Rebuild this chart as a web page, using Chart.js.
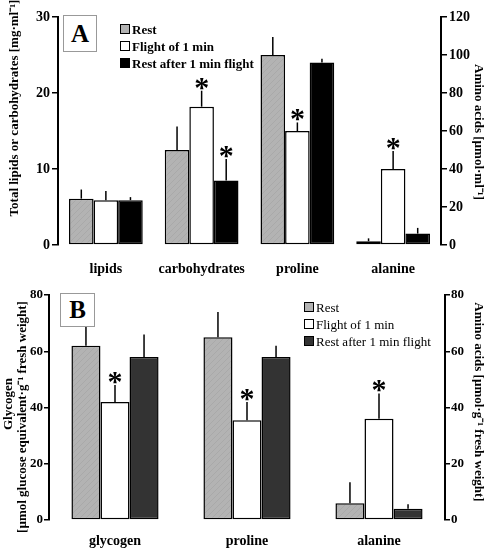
<!DOCTYPE html>
<html>
<head>
<meta charset="utf-8">
<script src="https://cdn.jsdelivr.net/npm/chart.js@4"></script>
<style>
  body { margin: 0; background: #fff; width: 488px; height: 548px; position: relative; overflow: hidden; font-family: "Liberation Serif", "Times New Roman", serif; }
  .panel { position: absolute; left: 0; width: 488px; }
  #wrapA { top: 0; height: 280px; }
  #wrapB { top: 280px; height: 268px; }
  .tag { position: absolute; border: 1px solid #999; background: #fff; font-weight: bold; font-size: 25px; text-align: center; box-sizing: border-box; }
  .legend { position: absolute; font-size: 13px; line-height: 17px; color: #000; }
  .legend div { white-space: nowrap; }
  .sw { display: inline-block; width: 8px; height: 8px; border: 1px solid #000; margin-right: 2px; }
</style>
</head>
<body>
<div class="panel" id="wrapA"><canvas id="chartA" width="488" height="280"></canvas></div>
<div class="panel" id="wrapB"><canvas id="chartB" width="488" height="268"></canvas></div>

<div class="tag" style="left:63px; top:15px; width:34px; height:37px; line-height:35px;">A</div>
<div class="tag" style="left:60px; top:293px; width:35px; height:34px; line-height:32px;">B</div>

<div class="legend" id="legendA" style="left:120px; top:21px; font-weight:bold;"></div>
<div class="legend" id="legendB" style="left:304px; top:299px;"></div>

<script>
// Panel A: hemolymph, lipids/carbohydrates in mg/ml (left axis), amino acids in umol/ml (right axis)
const categoriesA = ['lipids', 'carbohydrates', 'proline', 'alanine'];
const onRightA = [false, false, true, true];
const restA = [6.1, 12.5, 100, 2];
const flightA = [5.9, 18.2, 60, 40];
const afterA = [5.9, 8.5, 96, 6];
const restErrA = [1.2, 3.1, 9.5, 1.5];
const flightErrA = [1.2, 2.1, 4.5, 9.5];
const afterErrA = [0.4, 2.8, 2, 3];
const flightStarA = [false, true, true, true];
const afterStarA = [false, true, false, false];

// Panel B: flight muscle, glycogen (left axis), amino acids (right axis)
const categoriesB = ['glycogen', 'proline', 'alanine'];
const onRightB = [false, true, true];
const restB = [62, 65, 6];
const flightB = [42, 35.5, 36];
const afterB = [58, 58, 4];
const restErrB = [8, 9, 7.4];
const flightErrB = [6, 6.5, 9];
const afterErrB = [8, 4, 1.6];
const flightStarB = [true, true, true];
const afterStarB = [false, false, false];

const seriesNames = ['Rest', 'Flight of 1 min', 'Rest after 1 min flight'];
const colorsA = ['#b3b3b3', '#ffffff', '#000000'];
const colorsB = ['#b3b3b3', '#ffffff', '#333333'];

const FONT = '"Liberation Serif", "Times New Roman", serif';

// faint diagonal texture like the scanned grey bars
function greyPattern() {
  const c = document.createElement('canvas');
  c.width = 6; c.height = 6;
  const g = c.getContext('2d');
  g.fillStyle = '#b3b3b3';
  g.fillRect(0, 0, 6, 6);
  g.strokeStyle = '#a9a9a9';
  g.lineWidth = 1;
  g.beginPath();
  g.moveTo(0, 6); g.lineTo(6, 0);
  g.stroke();
  return g.createPattern(c, 'repeat');
}

// split one series into a left-axis and a right-axis dataset
function makeSets(values, errs, stars, onRight, label, color) {
  const noStars = values.map(() => false);
  const pick = (arr, right) => arr.map((v, i) => onRight[i] === right ? v : null);
  const base = {
    label: label,
    backgroundColor: color === '#b3b3b3' ? greyPattern() : color,
    borderColor: '#000',
    borderWidth: 1.5,
    borderSkipped: false,
    skipNull: true,
    barPercentage: 1.0
  };
  return [
    Object.assign({}, base, { data: pick(values, false), errors: errs, stars: stars || noStars, yAxisID: 'yL' }),
    Object.assign({}, base, { data: pick(values, true), errors: errs, stars: stars || noStars, yAxisID: 'yR' })
  ];
}

const errorBarPlugin = {
  id: 'errorBars',
  afterDatasetsDraw(chart) {
    const ctx = chart.ctx;
    chart.data.datasets.forEach((ds, di) => {
      const meta = chart.getDatasetMeta(di);
      const yScale = chart.scales[ds.yAxisID];
      meta.data.forEach((bar, i) => {
        const v = ds.data[i];
        if (v === null || v === undefined) return;
        const top = yScale.getPixelForValue(v + ds.errors[i]);
        ctx.save();
        ctx.strokeStyle = '#000';
        ctx.lineWidth = 1.5;
        ctx.beginPath();
        ctx.moveTo(bar.x, bar.y);
        ctx.lineTo(bar.x, top);
        ctx.stroke();
        if (ds.stars[i]) {
          ctx.fillStyle = '#000';
          ctx.font = 'bold 30px ' + FONT;
          ctx.textAlign = 'center';
          ctx.textBaseline = 'alphabetic';
          ctx.fillText('*', bar.x, top + 6);
        }
        ctx.restore();
      });
    });
  }
};

// rotated axis titles
const axisTitlePlugin = {
  id: 'axisTitles',
  afterDraw(chart, args, opts) {
    const ctx = chart.ctx;
    (opts.items || []).forEach(t => {
      ctx.save();
      ctx.translate(t.x, t.y);
      ctx.rotate(t.rot);
      ctx.fillStyle = '#000';
      ctx.font = 'bold 13px ' + FONT;
      ctx.textAlign = 'center';
      ctx.textBaseline = 'middle';
      ctx.fillText(t.text, 0, 0);
      ctx.restore();
    });
  }
};

function yAxis(pos, max, step, width, size, tick) {
  return {
    position: pos,
    min: 0,
    max: max,
    ticks: { stepSize: step, color: '#000', padding: tick.pad, font: { family: FONT, size: size, weight: 'bold' } },
    grid: { drawOnChartArea: false, drawTicks: true, tickLength: tick.len, color: '#000', lineWidth: 1.5 },
    border: { display: true, color: '#000', width: 2 },
    afterFit: s => { s.width = width; }
  };
}

function buildChart(id, cats, rest, flight, after, errs, stars, onRight, colors, dims, titles) {
  const datasets = []
    .concat(makeSets(rest, errs[0], stars[0], onRight, seriesNames[0], colors[0]))
    .concat(makeSets(flight, errs[1], stars[1], onRight, seriesNames[1], colors[1]))
    .concat(makeSets(after, errs[2], stars[2], onRight, seriesNames[2], colors[2]));
  // order: all left sets first, then all right sets
  const ordered = [datasets[0], datasets[2], datasets[4], datasets[1], datasets[3], datasets[5]];
  ordered.forEach(d => { d.categoryPercentage = dims.catPct; });
  return new Chart(document.getElementById(id), {
    type: 'bar',
    data: { labels: cats, datasets: ordered },
    options: {
      responsive: false,
      animation: false,
      devicePixelRatio: 1,
      layout: { padding: { top: dims.top, left: 0, right: 0, bottom: 0 } },
      plugins: {
        legend: { display: false },
        tooltip: { enabled: false },
        axisTitles: { items: titles }
      },
      scales: {
        x: {
          grid: { display: false },
          border: { display: false },
          ticks: { color: '#000', padding: dims.xPad, font: { family: FONT, size: 14, weight: 'bold' } },
          afterFit: s => { s.height = dims.xH; }
        },
        yL: yAxis('left', dims.maxL, dims.stepL, dims.wL, dims.tickSize, dims.tick),
        yR: yAxis('right', dims.maxR, dims.stepR, dims.wR, dims.tickSize, dims.tick)
      }
    },
    plugins: [errorBarPlugin, axisTitlePlugin]
  });
}

buildChart('chartA', categoriesA, restA, flightA, afterA,
  [restErrA, flightErrA, afterErrA], [null, flightStarA, afterStarA], onRightA, colorsA,
  { top: 17, xH: 35, xPad: 8, wL: 58, wR: 47, maxL: 30, stepL: 10, maxR: 120, stepR: 20, catPct: 0.77, tickSize: 14, tick: { len: 6, pad: 2 } },
  [
    { x: 15, y: 108, rot: -Math.PI / 2, text: 'Total lipids or carbohydrates [mg\u00b7ml\u207b\u00b9]' },
    { x: 478, y: 132, rot: Math.PI / 2, text: 'Amino acids [\u00b5mol\u00b7ml\u207b\u00b9]' }
  ]);

buildChart('chartB', categoriesB, restB, flightB, afterB,
  [restErrB, flightErrB, afterErrB], [null, flightStarB, afterStarB], onRightB, colorsB,
  { top: 15, xH: 28, xPad: 5, wL: 49, wR: 43, maxL: 80, stepL: 20, maxR: 80, stepR: 20, catPct: 0.66, tickSize: 13, tick: { len: 5, pad: 1 } },
  [
    { x: 9, y: 124, rot: -Math.PI / 2, text: 'Glycogen' },
    { x: 23, y: 137, rot: -Math.PI / 2, text: '[\u00b5mol glucose equivalent\u00b7g\u207b\u00b9 fresh weight]' },
    { x: 478, y: 122, rot: Math.PI / 2, text: 'Amino acids [\u00b5mol\u00b7g\u207b\u00b9 fresh weight]' }
  ]);

function fillLegend(id, colors) {
  document.getElementById(id).innerHTML = seriesNames.map((n, i) =>
    '<div><span class="sw" style="background:' + colors[i] + '"></span>' + n + '</div>').join('');
}
fillLegend('legendA', colorsA);
fillLegend('legendB', colorsB);
</script>
</body>
</html>
